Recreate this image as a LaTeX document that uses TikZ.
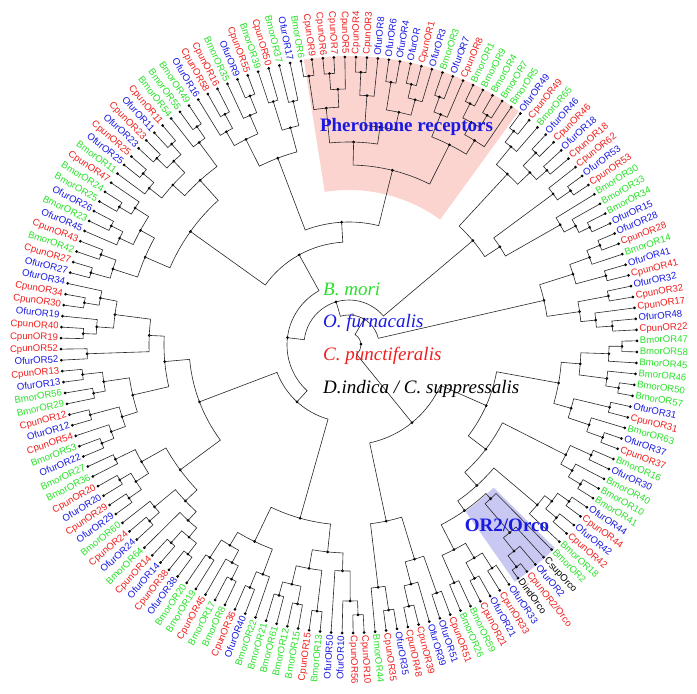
\documentclass[tikz,border=0pt]{standalone}
\usepackage{fontspec}
\setmainfont{Liberation Serif}
\newfontfamily\labfont{Liberation Sans}
\definecolor{cg}{RGB}{40,225,40}
\definecolor{cr}{RGB}{240,30,30}
\definecolor{cb}{RGB}{25,25,225}
\definecolor{ck}{RGB}{0,0,0}
\definecolor{pinkbg}{RGB}{251,212,208}
\definecolor{lavbg}{RGB}{200,200,242}
\newif\ifmyflip
\def\StartAng{99.6}
\def\StepAng{2.1951}
\def\Rl{288}
\newcommand\myleaf[3]{%
  \pgfmathsetmacro\myA{\StartAng-(#1-1)*\StepAng-(#1<86)*360}%
  \expandafter\xdef\csname ta@#1\endcsname{\myA}%
  \expandafter\xdef\csname tr@#1\endcsname{\Rl}%
  \coordinate (n#1) at (\myA:\Rl);
  \fill[dotc] (n#1) circle[radius=1.5];
  \pgfmathsetmacro\myN{mod(\myA+720,360)}%
  \myflipfalse
  \ifdim\myN pt>90pt \ifdim\myN pt<270pt \myfliptrue\fi\fi
  \pgfmathsetmacro\myT{\Rl+3}%
  \ifmyflip
    \pgfmathsetmacro\myRot{\myN-180}%
    \node[lab,text=#2,anchor=mid east,rotate=\myRot] (t#1) at (\myA:\myT) {#3};
  \else
    \node[lab,text=#2,anchor=mid west,rotate=\myN] (t#1) at (\myA:\myT) {#3};
  \fi
}
\newcommand\myclade[4]{%
  \edef\cA{\csname ta@#3\endcsname}%
  \edef\cB{\csname ta@#4\endcsname}%
  \pgfmathsetmacro\myM{(\cA+\cB)/2}%
  \expandafter\xdef\csname ta@#1\endcsname{\myM}%
  \expandafter\xdef\csname tr@#1\endcsname{#2}%
  \coordinate (n#1) at (\myM:#2);
  \draw[br] (n#3) -- (\cA:#2) arc[start angle=\cA, end angle=\cB, radius=#2] -- (n#4);
  \fill[dotc] (n#1) circle[radius=1.5];
}
\tikzset{
  lab/.style={font=\labfont\fontsize{9.6pt}{10pt}\selectfont, inner sep=0pt, outer sep=0pt},
  br/.style={draw=black!85, line width=0.6pt},
  dotc/.style={fill=black},
  leg/.style={font=\fontsize{19pt}{22pt}\selectfont\itshape, inner sep=0pt, anchor=base west},
  ttl/.style={font=\fontsize{19pt}{22pt}\selectfont\bfseries, text=cb, inner sep=0pt}
}
\begin{document}
\begin{tikzpicture}[x=1pt,y=1pt]
\useasboundingbox (-349,-349) rectangle (348,345);
\fill[pinkbg] (99:155) arc[start angle=99,end angle=54,radius=155] -- (54:289) arc[start angle=54,end angle=99,radius=289] -- cycle;
\fill[lavbg] (-44.6:203) arc[start angle=-44.6,end angle=-55,radius=203] -- (-55:289) arc[start angle=-55,end angle=-44.6,radius=289] -- cycle;
% leaves
\myleaf{1}{cg}{BmorOR6}
\myleaf{2}{cr}{CpunOR9}
\myleaf{3}{cr}{CpunOR6}
\myleaf{4}{cr}{CpunOR7}
\myleaf{5}{cr}{CpunOR5}
\myleaf{6}{cr}{CpunOR4}
\myleaf{7}{cr}{CpunOR3}
\myleaf{8}{cb}{OfurOR8}
\myleaf{9}{cb}{OfurOR6}
\myleaf{10}{cb}{OfurOR4}
\myleaf{11}{cb}{OfurOR}
\myleaf{12}{cr}{CpunOR1}
\myleaf{13}{cb}{OfurOR3}
\myleaf{14}{cg}{BmorOR3}
\myleaf{15}{cb}{OfurOR7}
\myleaf{16}{cr}{CpunOR8}
\myleaf{17}{cg}{BmorOR1}
\myleaf{18}{cg}{BmorOR9}
\myleaf{19}{cg}{BmorOR4}
\myleaf{20}{cg}{BmorOR7}
\myleaf{21}{cg}{BmorOR5}
\myleaf{22}{cb}{OfurOR49}
\myleaf{23}{cr}{CpunOR49}
\myleaf{24}{cg}{BmorOR65}
\myleaf{25}{cb}{OfurOR46}
\myleaf{26}{cr}{CpunOR46}
\myleaf{27}{cb}{OfurOR18}
\myleaf{28}{cr}{CpunOR18}
\myleaf{29}{cr}{CpunOR62}
\myleaf{30}{cb}{OfurOR53}
\myleaf{31}{cr}{CpunOR53}
\myleaf{32}{cg}{BmorOR30}
\myleaf{33}{cg}{BmorOR33}
\myleaf{34}{cg}{BmorOR34}
\myleaf{35}{cb}{OfurOR15}
\myleaf{36}{cb}{OfurOR28}
\myleaf{37}{cr}{CpunOR28}
\myleaf{38}{cg}{BmorOR14}
\myleaf{39}{cb}{OfurOR41}
\myleaf{40}{cr}{CpunOR41}
\myleaf{41}{cb}{OfurOR32}
\myleaf{42}{cr}{CpunOR32}
\myleaf{43}{cr}{CpunOR17}
\myleaf{44}{cb}{OfurOR48}
\myleaf{45}{cr}{CpunOR22}
\myleaf{46}{cg}{BmorOR47}
\myleaf{47}{cg}{BmorOR58}
\myleaf{48}{cg}{BmorOR45}
\myleaf{49}{cg}{BmorOR46}
\myleaf{50}{cg}{BmorOR50}
\myleaf{51}{cg}{BmorOR57}
\myleaf{52}{cb}{OfurOR31}
\myleaf{53}{cr}{CpunOR31}
\myleaf{54}{cg}{BmorOR63}
\myleaf{55}{cb}{OfurOR37}
\myleaf{56}{cr}{CpunOR37}
\myleaf{57}{cg}{BmorOR16}
\myleaf{58}{cb}{OfurOR30}
\myleaf{59}{cg}{BmorOR40}
\myleaf{60}{cg}{BmorOR10}
\myleaf{61}{cg}{BmorOR41}
\myleaf{62}{cb}{OfurOR44}
\myleaf{63}{cr}{CpunOR44}
\myleaf{64}{cb}{OfurOR42}
\myleaf{65}{cr}{CpunOR42}
\myleaf{66}{cg}{BmorOR18}
\myleaf{67}{cg}{BmorOR2}
\myleaf{68}{ck}{CsupOrco}
\myleaf{69}{cb}{OfurOR2}
\myleaf{70}{cr}{CpunOR2/Orco}
\myleaf{71}{ck}{DindOrco}
\myleaf{72}{cb}{OfurOR33}
\myleaf{73}{cr}{CpunOR33}
\myleaf{74}{cb}{OfurOR21}
\myleaf{75}{cr}{CpunOR21}
\myleaf{76}{cg}{BmorOR59}
\myleaf{77}{cg}{BmorOR26}
\myleaf{78}{cr}{CpunOR51}
\myleaf{79}{cb}{OfurOR51}
\myleaf{80}{cb}{OfurOR39}
\myleaf{81}{cr}{CpunOR39}
\myleaf{82}{cr}{CpunOR48}
\myleaf{83}{cb}{OfurOR35}
\myleaf{84}{cr}{CpunOR35}
\myleaf{85}{cg}{BmorOR44}
\myleaf{86}{cr}{CpunOR10}
\myleaf{87}{cr}{CpunOR56}
\myleaf{88}{cb}{OfurOR10}
\myleaf{89}{cb}{OfurOR50}
\myleaf{90}{cg}{BmorOR13}
\myleaf{91}{cr}{CpunOR15}
\myleaf{92}{cg}{BmorOR15}
\myleaf{93}{cg}{BmorOR12}
\myleaf{94}{cg}{BmorOR61}
\myleaf{95}{cg}{BmorOR21}
\myleaf{96}{cg}{BmorOR22}
\myleaf{97}{cb}{OfurOR40}
\myleaf{98}{cr}{CpunOR36}
\myleaf{99}{cg}{BmorOR8}
\myleaf{100}{cg}{BmorOR17}
\myleaf{101}{cr}{CpunOR45}
\myleaf{102}{cg}{BmorOR19}
\myleaf{103}{cg}{BmorOR20}
\myleaf{104}{cb}{OfurOR38}
\myleaf{105}{cr}{CpunOR38}
\myleaf{106}{cb}{OfurOR14}
\myleaf{107}{cr}{CpunOR14}
\myleaf{108}{cg}{BmorOR64}
\myleaf{109}{cb}{OfurOR24}
\myleaf{110}{cr}{CpunOR24}
\myleaf{111}{cg}{BmorOR60}
\myleaf{112}{cb}{OfurOR29}
\myleaf{113}{cr}{CpunOR29}
\myleaf{114}{cb}{OfurOR20}
\myleaf{115}{cr}{CpunOR20}
\myleaf{116}{cg}{BmorOR36}
\myleaf{117}{cg}{BmorOR27}
\myleaf{118}{cb}{OfurOR22}
\myleaf{119}{cg}{BmorOR53}
\myleaf{120}{cr}{CpunOR54}
\myleaf{121}{cb}{OfurOR12}
\myleaf{122}{cr}{CpunOR12}
\myleaf{123}{cg}{BmorOR29}
\myleaf{124}{cg}{BmorOR56}
\myleaf{125}{cb}{OfurOR13}
\myleaf{126}{cr}{CpunOR13}
\myleaf{127}{cb}{OfurOR52}
\myleaf{128}{cr}{CpunOR52}
\myleaf{129}{cr}{CpunOR19}
\myleaf{130}{cr}{CpunOR40}
\myleaf{131}{cb}{OfurOR19}
\myleaf{132}{cr}{CpunOR30}
\myleaf{133}{cr}{CpunOR34}
\myleaf{134}{cb}{OfurOR34}
\myleaf{135}{cb}{OfurOR27}
\myleaf{136}{cr}{CpunOR27}
\myleaf{137}{cg}{BmorOR42}
\myleaf{138}{cr}{CpunOR43}
\myleaf{139}{cb}{OfurOR45}
\myleaf{140}{cg}{BmorOR23}
\myleaf{141}{cb}{OfurOR26}
\myleaf{142}{cg}{BmorOR25}
\myleaf{143}{cg}{BmorOR24}
\myleaf{144}{cr}{CpunOR47}
\myleaf{145}{cg}{BmorOR11}
\myleaf{146}{cb}{OfurOR25}
\myleaf{147}{cr}{CpunOR25}
\myleaf{148}{cb}{OfurOR23}
\myleaf{149}{cr}{CpunOR23}
\myleaf{150}{cb}{OfurOR11}
\myleaf{151}{cr}{CpunOR11}
\myleaf{152}{cg}{BmorOR54}
\myleaf{153}{cg}{BmorOR55}
\myleaf{154}{cg}{BmorOR49}
\myleaf{155}{cb}{OfurOR16}
\myleaf{156}{cr}{CpunOR58}
\myleaf{157}{cr}{CpunOR16}
\myleaf{158}{cg}{BmorOR35}
\myleaf{159}{cb}{OfurOR9}
\myleaf{160}{cr}{CpunOR55}
\myleaf{161}{cg}{BmorOR39}
\myleaf{162}{cr}{CpunOR50}
\myleaf{163}{cg}{BmorOR37}
\myleaf{164}{cb}{OfurOR17}
% pheromone clade
\myclade{p1}{272}{1}{2}
\myclade{p2}{272}{3}{4}
\myclade{p3}{256}{p2}{5}
\myclade{p4}{238}{p1}{p3}
\myclade{p5}{273}{6}{7}
\myclade{p6}{250}{p5}{8}
\myclade{p7}{266}{9}{10}
\myclade{p8}{268}{11}{12}
\myclade{p9}{254}{p8}{13}
\myclade{p10}{238}{p7}{p9}
\myclade{p11}{220}{p6}{p10}
\myclade{p12}{203}{p4}{p11}
\myclade{p13}{264}{14}{15}
\myclade{p14}{248}{p13}{16}
\myclade{p15}{270}{17}{18}
\myclade{p16}{268}{19}{20}
\myclade{p17}{254}{p15}{p16}
\myclade{p18}{240}{p17}{21}
\myclade{p19}{224}{p14}{p18}
\myclade{PH}{180}{p12}{p19}
% top left
\myclade{t1}{262}{156}{157}
\myclade{t2}{246}{155}{t1}
\myclade{t3}{268}{159}{160}
\myclade{t4}{250}{158}{t3}
\myclade{t5}{230}{t2}{t4}
\myclade{t6}{255}{161}{162}
\myclade{t7}{250}{163}{164}
\myclade{t8}{225}{t6}{t7}
\myclade{TL}{200}{t5}{t8}
\myclade{PHX}{123}{TL}{PH}
% upper left
\myclade{u1}{268}{135}{136}
\myclade{u2}{264}{137}{138}
\myclade{u3}{248}{u1}{u2}
\myclade{u4}{266}{140}{141}
\myclade{u5}{253}{139}{u4}
\myclade{u6}{268}{142}{143}
\myclade{u7}{254}{u6}{144}
\myclade{u8}{238}{u5}{u7}
\myclade{u9}{222}{u3}{u8}
\myclade{u10}{268}{146}{147}
\myclade{u11}{254}{145}{u10}
\myclade{u12}{268}{148}{149}
\myclade{u13}{268}{150}{151}
\myclade{u14}{254}{u12}{u13}
\myclade{u15}{238}{u11}{u14}
\myclade{u16}{266}{153}{154}
\myclade{u17}{252}{152}{u16}
\myclade{u18}{222}{u15}{u17}
\myclade{UL}{195}{u9}{u18}
\myclade{N1}{103}{UL}{PHX}
% lower left
\myclade{x1}{270}{86}{87}
\myclade{x2}{256}{88}{x1}
\myclade{x3}{226}{89}{x2}
\myclade{x4}{268}{90}{91}
\myclade{x5}{264}{92}{93}
\myclade{x6}{260}{94}{95}
\myclade{x7}{246}{x5}{x6}
\myclade{x8}{227}{x4}{x7}
\myclade{XX}{208}{x3}{x8}
\myclade{y1}{262}{97}{98}
\myclade{y2}{245}{96}{y1}
\myclade{y3}{262}{99}{100}
\myclade{y4}{247}{y3}{101}
\myclade{y5}{254}{102}{103}
\myclade{y6}{233}{y4}{y5}
\myclade{y7}{218}{y2}{y6}
\myclade{BB}{180}{XX}{y7}
\myclade{w1}{264}{104}{105}
\myclade{w2}{266}{106}{107}
\myclade{w3}{250}{w1}{w2}
\myclade{w4}{238}{w3}{108}
\myclade{w5}{266}{109}{110}
\myclade{w6}{253}{w5}{111}
\myclade{w7}{226}{w4}{w6}
\myclade{w8}{268}{112}{113}
\myclade{w9}{266}{114}{115}
\myclade{w10}{253}{w8}{w9}
\myclade{w11}{260}{116}{117}
\myclade{w12}{238}{w10}{w11}
\myclade{w13}{210}{w7}{w12}
\myclade{w14}{266}{118}{119}
\myclade{w15}{253}{w14}{120}
\myclade{w16}{268}{121}{122}
\myclade{w17}{238}{w15}{w16}
\myclade{w18}{260}{123}{124}
\myclade{w19}{268}{125}{126}
\myclade{w20}{248}{w18}{w19}
\myclade{w21}{222}{w17}{w20}
\myclade{w22}{262}{127}{128}
\myclade{w23}{266}{129}{130}
\myclade{w24}{253}{w23}{131}
\myclade{w25}{268}{132}{133}
\myclade{w26}{253}{w25}{134}
\myclade{w27}{236}{w24}{w26}
\myclade{w28}{200}{w22}{w27}
\myclade{w29}{185}{w21}{w28}
\myclade{WW}{160}{w13}{w29}
\myclade{N3}{77}{BB}{WW}
\myclade{N2}{62}{N3}{N1}
% upper right
\myclade{q1}{270}{22}{23}
\myclade{q2}{256}{q1}{24}
\myclade{q3}{268}{25}{26}
\myclade{q4}{264}{27}{28}
\myclade{q5}{250}{q3}{q4}
\myclade{Qa}{233}{q2}{q5}
\myclade{q6}{270}{30}{31}
\myclade{q7}{254}{29}{q6}
\myclade{q8}{268}{34}{35}
\myclade{q9}{256}{33}{q8}
\myclade{q10}{243}{32}{q9}
\myclade{Qb}{180}{q7}{q10}
\myclade{QQ}{162}{Qa}{Qb}
\myclade{C1}{45}{N2}{QQ}
% right
\myclade{r1}{270}{36}{37}
\myclade{r2}{256}{r1}{38}
\myclade{r3}{266}{39}{40}
\myclade{RR}{235}{r2}{r3}
\myclade{s1}{264}{41}{42}
\myclade{s2}{264}{44}{45}
\myclade{s3}{248}{43}{s2}
\myclade{SS}{233}{s1}{s3}
\myclade{RS}{200}{RR}{SS}
\myclade{C0}{30}{C1}{RS}
% lower right
\myclade{a1}{273}{46}{47}
\myclade{a2}{260}{a1}{48}
\myclade{a3}{273}{50}{51}
\myclade{a4}{260}{49}{a3}
\myclade{T1}{232}{a2}{a4}
\myclade{b1}{268}{52}{53}
\myclade{b2}{270}{55}{56}
\myclade{b3}{253}{54}{b2}
\myclade{T2}{231}{b1}{b3}
\myclade{TT}{213}{T1}{T2}
\myclade{c1}{266}{57}{58}
\myclade{c2}{270}{60}{61}
\myclade{c3}{256}{59}{c2}
\myclade{c4}{243}{c1}{c3}
\myclade{c5}{270}{62}{63}
\myclade{c6}{270}{64}{65}
\myclade{c7}{256}{c5}{c6}
\myclade{c8}{247}{c7}{66}
\myclade{o1}{278}{70}{71}
\myclade{o2}{264}{69}{o1}
\myclade{o3}{247}{68}{o2}
\myclade{OO}{209}{67}{o3}
\myclade{z1}{265}{72}{73}
\myclade{z2}{265}{74}{75}
\myclade{z3}{247}{z1}{z2}
\myclade{z4}{260}{76}{77}
\myclade{z5}{230}{z3}{z4}
\myclade{oz}{202}{OO}{z5}
\myclade{c9}{190}{c8}{oz}
\myclade{UU}{172}{c4}{c9}
\myclade{TU}{150}{TT}{UU}
\myclade{z6}{263}{78}{79}
\myclade{z7}{268}{81}{82}
\myclade{z8}{247}{80}{z7}
\myclade{z9}{224}{z6}{z8}
\myclade{z10}{268}{83}{84}
\myclade{z11}{244}{z10}{85}
\myclade{z12}{180}{z9}{z11}
\myclade{LR}{100}{TU}{z12}
\myclade{root}{12}{C0}{LR}
% legend and titles
\node[leg,text=cg] (lg1) at (-26,50) {B. mori};
\node[leg,text=cb] (lg2) at (-26,18) {O. furnacalis};
\node[leg,text=cr] (lg3) at (-26,-15) {C. punctiferalis};
\node[leg,text=ck] (lg4) at (-26,-48) {D.indica / C. suppressalis};
\node[ttl] (phr) at (57.5,218) {Pheromone receptors};
\node[ttl] (orc) at (158,-180) {OR2/Orco};
\end{tikzpicture}
\end{document}
